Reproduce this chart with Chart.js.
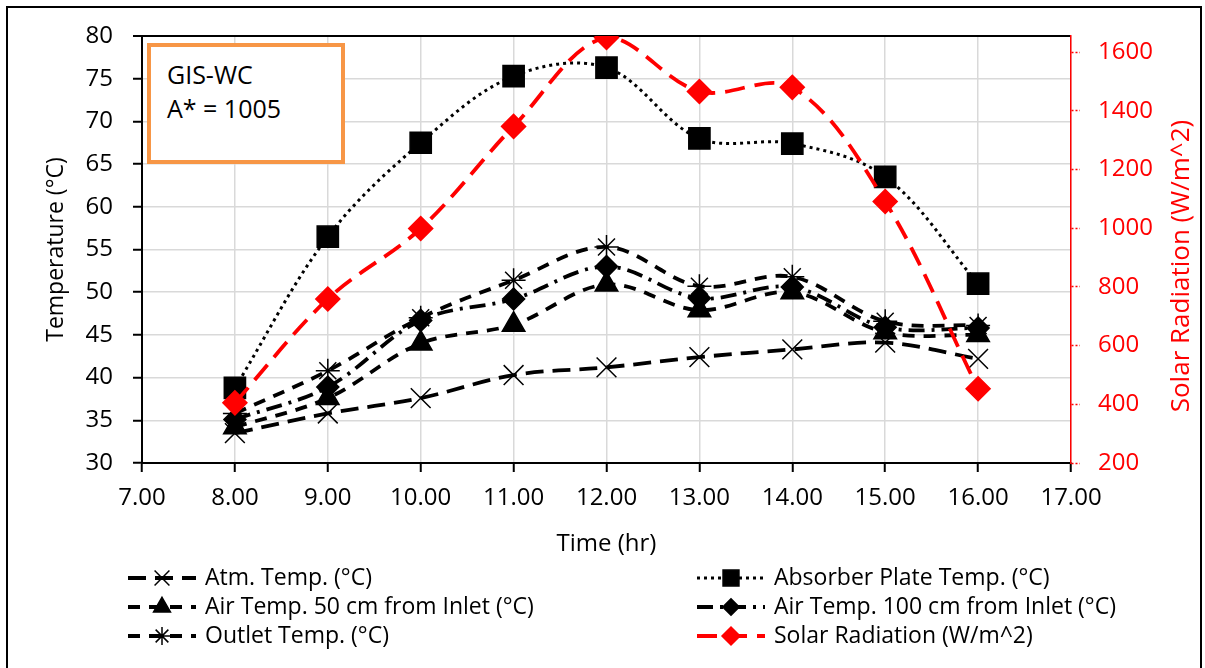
<!DOCTYPE html>
<html lang="en">
<head>
  <meta charset="UTF-8">
  <title>GIS-WC Temperatures and Solar Radiation</title>
  <script src="https://cdn.jsdelivr.net/npm/chart.js"></script>
  <style>
    body {
      margin: 0;
      padding: 0;
      background: #fff;
      font-family: "Open Sans", sans-serif;
    }
    .wrap {
      position: relative;
      width: 1205px;
      height: 668px;
      overflow: hidden;
    }
    .frame {
      position: absolute;
      left: 6px;
      top: 6px;
      width: 1192px;
      height: 700px;
      border: 2px solid #000;
      pointer-events: none;
    }
    .note {
      position: absolute;
      left: 147px;
      top: 43px;
      width: 198px;
      height: 121px;
      border: 4px solid #f79646;
      background: #fff;
      font-size: 25px;
      line-height: 34px;
      padding: 10px 0 0 16px;
      box-sizing: border-box;
      color: #000;
    }
  </style>
</head>
<body>
  <div class="wrap">
    <canvas id="chart"></canvas>
    <div class="note">GIS-WC<br>A* = 1005</div>
    <div class="frame"></div>
  </div>

  <script>
    // data
    const hours = [8, 9, 10, 11, 12, 13, 14, 15, 16];
    const atmTemp = [33.5, 35.8, 37.6, 40.3, 41.2, 42.4, 43.3, 44.1, 42.2];
    const absorberTemp = [38.8, 56.5, 67.5, 75.3, 76.3, 68.0, 67.4, 63.5, 51.0];
    const air50Temp = [34.2, 37.6, 44.0, 46.2, 50.9, 47.9, 50.0, 45.3, 45.0];
    const air100Temp = [35.1, 38.9, 46.7, 49.2, 53.0, 49.3, 50.6, 45.9, 45.8];
    const outletTemp = [35.8, 40.8, 47.0, 51.4, 55.3, 50.7, 51.8, 46.6, 46.1];
    const solarRad = [405, 759, 999, 1347, 1650, 1466, 1480, 1091, 453];

    const FONT = "'Open Sans', sans-serif";

    function pts(values) {
      return hours.map((h, i) => ({ x: h, y: values[i] }));
    }

    function series(label, values, style) {
      return Object.assign({
        label: label,
        data: pts(values),
        borderColor: '#000',
        backgroundColor: '#000',
        pointBorderColor: '#000',
        pointBackgroundColor: '#000',
        borderWidth: 3.8,
        pointBorderWidth: 1.5,
        tension: 0.35,
        fill: false,
        yAxisID: 'y'
      }, style);
    }

    const datasets = [
      series('Solar Radiation (W/m^2)', solarRad, {
        borderColor: '#ff0000', backgroundColor: '#ff0000',
        pointBorderColor: '#ff0000', pointBackgroundColor: '#ff0000',
        borderDash: [20, 10], pointStyle: 'rectRot', pointRadius: 12,
        yAxisID: 'y1', order: 0, col: 1, row: 2
      }),
      series('Atm. Temp. (°C)', atmTemp, {
        borderDash: [18, 9], pointStyle: 'crossRot', pointRadius: 14,
        order: 1, col: 0, row: 0
      }),
      series('Absorber Plate Temp. (°C)', absorberTemp, {
        borderDash: [3, 4], borderWidth: 3, pointStyle: 'rect', pointRadius: 15,
        order: 2, col: 1, row: 0
      }),
      series('Air Temp. 50 cm from Inlet (°C)', air50Temp, {
        borderDash: [12, 9], pointStyle: 'triangle', pointRadius: 13,
        order: 3, col: 0, row: 1
      }),
      series('Air Temp. 100 cm from Inlet (°C)', air100Temp, {
        borderDash: [16, 7, 3, 7], pointStyle: 'rectRot', pointRadius: 11,
        order: 4, col: 1, row: 1
      }),
      series('Outlet Temp. (°C)', outletTemp, {
        borderDash: [12, 9], pointStyle: 'star', pointRadius: 12,
        order: 5, col: 0, row: 2
      })
    ];

    // two column legend under the plot, drawn like the Excel one
    const legendPlugin = {
      id: 'twoColLegend',
      afterDraw(chart) {
        const ctx = chart.ctx;
        const colX = [128, 697];
        const rowY = [578, 607, 636];
        chart.data.datasets.forEach(ds => {
          const x0 = colX[ds.col];
          const y = rowY[ds.row];
          ctx.save();
          ctx.strokeStyle = ds.borderColor;
          ctx.lineWidth = ds.borderWidth;
          ctx.setLineDash(ds.borderDash || []);
          ctx.beginPath();
          ctx.moveTo(x0, y);
          ctx.lineTo(x0 + 68, y);
          ctx.stroke();
          ctx.setLineDash([]);
          ctx.fillStyle = ds.pointBackgroundColor;
          ctx.strokeStyle = ds.pointBorderColor;
          ctx.lineWidth = 1.5;
          Chart.helpers.drawPoint(ctx, {
            pointStyle: ds.pointStyle,
            radius: ds.pointRadius * 0.75,
            rotation: 0,
            borderWidth: 1.5
          }, x0 + 34, y);
          ctx.fillStyle = '#000';
          ctx.font = '23px ' + FONT;
          ctx.textAlign = 'left';
          ctx.textBaseline = 'middle';
          ctx.fillText(ds.label, x0 + 77, y);
          ctx.restore();
        });
      }
    };

    // right axis title reads bottom to top, like the left one
    const rightTitlePlugin = {
      id: 'rightTitle',
      afterDraw(chart) {
        const ctx = chart.ctx;
        ctx.save();
        ctx.translate(1182, 266);
        ctx.rotate(-Math.PI / 2);
        ctx.fillStyle = '#ff0000';
        ctx.font = '26px ' + FONT;
        ctx.textAlign = 'center';
        ctx.textBaseline = 'middle';
        ctx.fillText('Solar Radiation (W/m^2)', 0, 0);
        ctx.restore();
      }
    };

    const gridGray = '#d9d9d9';

    const chart = new Chart(document.getElementById('chart'), {
      type: 'line',
      data: { datasets: datasets },
      options: {
        responsive: true,
        maintainAspectRatio: false,
        animation: false,
        layout: { padding: { top: 36, left: 0, right: 0, bottom: 0 } },
        plugins: {
          legend: { display: false },
          tooltip: { enabled: false }
        },
        scales: {
          x: {
            type: 'linear',
            min: 7,
            max: 17,
            afterFit: s => { s.height = 205; },
            ticks: {
              stepSize: 1,
              color: '#000',
              padding: 12,
              maxRotation: 0,
              font: { family: FONT, size: 24 },
              callback: v => Number(v).toFixed(2)
            },
            grid: {
              color: gridGray,
              lineWidth: 1.5,
              tickLength: 9,
              tickColor: '#000',
              tickWidth: 2
            },
            border: { color: '#000', width: 2 },
            title: {
              display: true,
              text: 'Time (hr)',
              color: '#000',
              font: { family: FONT, size: 24 },
              padding: { top: 0, bottom: 109 }
            }
          },
          y: {
            position: 'left',
            min: 30,
            max: 80,
            afterFit: s => { s.width = 142; },
            ticks: {
              stepSize: 5,
              color: '#000',
              padding: 20,
              font: { family: FONT, size: 24 }
            },
            grid: {
              color: c => (c.tick && c.tick.value === 80 ? '#000' : gridGray),
              lineWidth: c => (c.tick && c.tick.value === 80 ? 2 : 1.5),
              tickLength: 9,
              tickColor: '#000',
              tickWidth: 2
            },
            border: { color: '#000', width: 2 },
            title: {
              display: true,
              text: 'Temperature (°C)',
              color: '#000',
              font: { family: FONT, size: 23 },
              padding: { top: 43, bottom: 0 }
            }
          },
          y1: {
            position: 'right',
            min: 200,
            max: 1655,
            afterFit: s => { s.width = 134; },
            ticks: {
              stepSize: 200,
              includeBounds: false,
              color: '#ff0000',
              padding: 18,
              font: { family: FONT, size: 24 },
              callback: v => String(v)
            },
            grid: {
              drawOnChartArea: false,
              tickLength: 9,
              tickColor: '#ff0000',
              tickWidth: 1.5,
              tickBorderDash: [2, 2]
            },
            border: { color: '#ff0000', width: 1.5, dash: [2, 2] }
          }
        }
      },
      plugins: [legendPlugin, rightTitlePlugin]
    });
  </script>
</body>
</html>
